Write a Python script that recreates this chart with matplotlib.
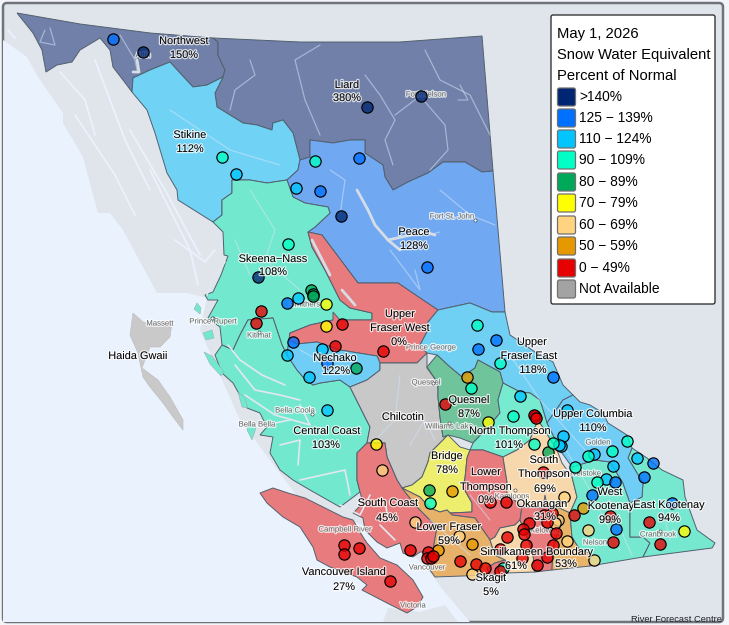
import matplotlib

matplotlib.use("Agg")
import matplotlib.patheffects as pe
import matplotlib.pyplot as plt
from matplotlib.patches import FancyBboxPatch, Polygon

plt.rcParams["font.family"] = ["Liberation Sans", "DejaVu Sans"]

# everything is in reference pixels, y pointing down
OCEAN = [(3, 40), (13, 47), (27, 57), (38, 77), (63, 113), (63, 123), (83, 157), (98, 213), (110, 213),
         (123, 230), (157, 293), (187, 293), (207, 298), (200, 330), (240, 420), (300, 500), (400, 540),
         (432, 575), (443, 590), (470, 622), (3, 622)]
OLYMPIC = [(383, 622), (388, 608), (420, 612), (445, 605), (458, 622)]
HAIDA_GWAII = [(133, 313), (143, 322), (160, 325), (172, 323), (170, 337), (160, 347), (150, 347), (142, 368),
               (158, 380), (170, 397), (183, 420), (183, 430), (173, 417), (163, 403), (150, 387), (143, 377),
               (138, 353), (130, 335)]

NORTHWEST = [(17, 13), (80, 24), (150, 33), (213, 38), (218, 42), (218, 55), (225, 70), (223, 77), (207, 85),
             (193, 87), (180, 73), (170, 62), (150, 70), (133, 78), (132, 92), (123, 80), (113, 67), (110, 50),
             (100, 38), (80, 50), (72, 62), (57, 65), (46, 72), (42, 50), (33, 33)]
LIARD = [(213, 38), (300, 42), (400, 42), (482, 36), (493, 171), (482, 172), (465, 162), (443, 162), (428, 173),
         (408, 182), (393, 190), (385, 177), (383, 165), (365, 153), (365, 140), (350, 140), (333, 143),
         (310, 140), (310, 157), (300, 160), (293, 133), (283, 120), (273, 123), (272, 130), (257, 125),
         (243, 123), (230, 115), (217, 107), (215, 93), (223, 77), (225, 70), (218, 55), (218, 42)]
STIKINE = [(132, 92), (133, 78), (150, 70), (170, 62), (180, 73), (193, 87), (207, 85), (223, 77), (215, 93),
           (217, 107), (230, 115), (243, 123), (257, 125), (272, 130), (273, 123), (283, 120), (293, 133),
           (300, 160), (298, 170), (287, 180), (267, 183), (250, 180), (232, 180), (232, 193), (222, 200),
           (222, 215), (213, 222), (178, 200), (177, 190), (167, 173), (155, 133), (147, 110)]
PEACE = [(300, 160), (310, 157), (310, 140), (333, 143), (350, 140), (365, 140), (365, 153), (383, 165),
         (385, 177), (393, 190), (408, 182), (428, 173), (443, 162), (465, 162), (482, 172), (493, 171),
         (505, 312), (492, 312), (470, 303), (438, 310), (420, 298), (398, 283), (358, 283), (322, 235),
         (308, 232), (315, 227), (330, 213), (328, 207), (305, 203), (293, 197), (287, 180), (298, 170)]
SKEENA = [(213, 222), (222, 215), (222, 200), (232, 193), (232, 180), (250, 180), (267, 183), (287, 180),
          (293, 197), (305, 203), (328, 207), (330, 213), (315, 227), (308, 232), (312, 247), (325, 270),
          (340, 300), (350, 308), (372, 313), (372, 320), (340, 320), (333, 320), (310, 325), (290, 333),
          (289, 340), (287, 355), (282, 345), (273, 318), (248, 320), (240, 335), (233, 350), (222, 345),
          (220, 327), (208, 318), (218, 300), (208, 300), (205, 295), (213, 292), (221, 275), (228, 256),
          (224, 255), (223, 232)]
CENTRAL_COAST = [(233, 350), (240, 335), (248, 320), (273, 318), (282, 345), (287, 355), (297, 370), (303, 377),
                 (313, 385), (320, 383), (340, 380), (350, 387), (353, 393), (363, 413), (370, 427), (367, 443),
                 (357, 453), (357, 480), (360, 492), (340, 507), (310, 490), (293, 480), (280, 470), (270, 453),
                 (273, 437), (260, 435), (267, 427), (260, 413), (247, 408), (233, 383), (222, 373), (215, 355),
                 (222, 345)]
NECHAKO = [(287, 355), (289, 340), (297, 344), (317, 342), (340, 350), (377, 356), (380, 363), (380, 370),
           (367, 380), (350, 387), (340, 380), (320, 383), (313, 385), (303, 377), (297, 370)]
UPPER_FRASER_WEST = [(308, 232), (322, 235), (358, 283), (398, 283), (420, 298), (438, 310), (428, 322), (428, 330),
                     (420, 345), (427, 353), (417, 363), (380, 363), (377, 356), (340, 350), (317, 342), (297, 344),
                     (289, 340), (290, 333), (310, 325), (333, 320), (333, 312), (340, 320), (372, 320), (372, 313),
                     (350, 308), (340, 300), (325, 270), (312, 247)]
UPPER_FRASER_EAST = [(420, 345), (428, 330), (428, 322), (438, 310), (470, 303), (492, 312), (505, 312), (510, 335),
                     (525, 345), (535, 352), (553, 362), (563, 385), (573, 395), (563, 400), (547, 423), (540, 400),
                     (530, 393), (520, 392), (503, 383), (500, 372), (478, 360), (475, 368), (462, 377), (450, 367),
                     (437, 355), (427, 353)]
CHILCOTIN = [(350, 387), (367, 380), (380, 370), (380, 363), (417, 363), (427, 353), (427, 368), (438, 383),
             (438, 397), (440, 417), (443, 437), (448, 435), (430, 453), (428, 462), (422, 477), (412, 485),
             (402, 488), (397, 480), (387, 457), (385, 443), (367, 443), (370, 427), (363, 413), (353, 393)]
QUESNEL = [(427, 367), (437, 355), (450, 367), (462, 377), (475, 368), (478, 360), (500, 372), (503, 383), (498, 400),
           (500, 413), (490, 425), (473, 443), (460, 438), (448, 435), (443, 437), (440, 417), (438, 397), (438, 383)]
NORTH_THOMPSON = [(503, 383), (520, 392), (530, 393), (540, 400), (547, 423), (562, 453), (557, 450), (538, 420),
                  (533, 432), (530, 440), (517, 450), (503, 457), (483, 450), (470, 450), (473, 443), (490, 425),
                  (500, 413), (498, 400)]
BRIDGE = [(448, 435), (460, 447), (470, 450), (467, 458), (465, 478), (463, 487), (472, 503), (472, 512), (450, 513),
          (447, 510), (440, 512), (430, 508), (420, 497), (402, 488), (412, 485), (422, 477), (428, 462), (430, 453)]
LOWER_THOMPSON = [(470, 450), (483, 450), (503, 457), (507, 482), (507, 493), (522, 507), (520, 520), (515, 525),
                  (500, 528), (495, 537), (490, 540), (483, 530), (475, 518), (452, 515), (450, 513), (472, 512),
                  (472, 503), (463, 487), (465, 478), (467, 458)]
SOUTH_THOMPSON = [(538, 420), (557, 450), (562, 463), (572, 477), (577, 497), (570, 513), (557, 507), (543, 508),
                  (522, 507), (507, 493), (507, 482), (503, 457), (517, 450), (530, 440), (533, 432)]
SOUTH_COAST = [(357, 453), (367, 443), (385, 443), (387, 457), (397, 480), (402, 488), (417, 507), (437, 527),
               (433, 550), (430, 552), (420, 552), (413, 557), (403, 553), (400, 543), (387, 548), (377, 542),
               (365, 530), (363, 518), (353, 513), (363, 503), (360, 492), (357, 480)]
LOWER_FRASER = [(402, 488), (420, 497), (430, 508), (440, 512), (447, 510), (452, 515), (475, 518), (483, 530),
                (490, 540), (495, 555), (505, 560), (495, 563), (487, 568), (490, 575), (435, 577), (430, 570),
                (430, 552), (433, 550), (437, 527), (417, 507)]
SIMILKAMEEN = [(515, 525), (520, 520), (530, 545), (533, 555), (535, 572), (507, 573), (510, 568), (505, 560),
               (495, 555), (490, 540), (495, 537), (500, 528)]
OKANAGAN = [(520, 520), (522, 507), (543, 508), (545, 495), (547, 505), (552, 513), (563, 520), (557, 535), (553, 550),
            (552, 570), (535, 572), (533, 555), (530, 545)]
BOUNDARY = [(570, 513), (572, 537), (580, 550), (590, 553), (590, 566), (552, 570), (553, 550), (557, 535), (563, 520),
            (552, 513), (557, 507)]
SKAGIT = [(487, 568), (495, 563), (505, 560), (510, 568), (507, 573), (490, 575)]
WEST_KOOTENAY = [(572, 477), (572, 467), (595, 460), (610, 462), (623, 483), (630, 503), (630, 537), (643, 537),
                 (650, 543), (643, 557), (590, 566), (590, 553), (580, 550), (572, 537), (570, 513), (577, 497)]
EAST_KOOTENAY = [(632, 448), (647, 458), (662, 470), (683, 480), (685, 497), (697, 530), (715, 543), (712, 548),
                 (643, 557), (650, 543), (643, 537), (630, 537), (630, 503), (642, 497), (643, 483), (628, 458)]
UPPER_COLUMBIA = [(573, 395), (580, 402), (590, 405), (603, 413), (608, 423), (627, 435), (632, 448), (628, 458),
                  (643, 483), (642, 497), (630, 503), (623, 483), (610, 462), (595, 460), (572, 467), (562, 453),
                  (547, 423), (563, 400)]
VANCOUVER_ISLAND = [(260, 493), (273, 488), (288, 493), (305, 498), (323, 507), (343, 517), (353, 520), (363, 537),
                    (367, 543), (380, 558), (397, 565), (413, 580), (423, 597), (417, 607), (407, 613), (387, 603),
                    (362, 590), (367, 585), (357, 577), (330, 567), (317, 560), (313, 547), (300, 527), (283, 517),
                    (267, 503)]
COAST_ISLANDS = [[(197, 303), (201, 308), (200, 314), (194, 309)],
                 [(203, 333), (212, 330), (214, 338), (206, 340)],
                 [(204, 352), (212, 356), (224, 372), (221, 376), (210, 364)],
                 [(238, 392), (245, 398), (248, 408), (242, 407)],
                 [(250, 420), (256, 428), (252, 440), (247, 430)]]

REGIONS = [
    (NORTHWEST, "#7080a8"), (LIARD, "#7080a8"), (STIKINE, "#70d3f6"), (PEACE, "#70a9f2"),
    (SKEENA, "#72e9cf"), (CENTRAL_COAST, "#72e9cf"), (UPPER_FRASER_WEST, "#e87b7d"), (NECHAKO, "#70cdf5"),
    (UPPER_FRASER_EAST, "#70d0f4"), (CHILCOTIN, "#c8c8c8"), (QUESNEL, "#70c49b"), (NORTH_THOMPSON, "#76ebd0"),
    (BRIDGE, "#eeee6e"), (LOWER_THOMPSON, "#e87b7d"), (SOUTH_THOMPSON, "#f6d8ac"), (SOUTH_COAST, "#e87b7d"),
    (LOWER_FRASER, "#e7b16a"), (SIMILKAMEEN, "#f6d8ac"), (OKANAGAN, "#e87b7d"), (BOUNDARY, "#e8b46a"),
    (SKAGIT, "#e87b7d"), (WEST_KOOTENAY, "#76e8cf"), (EAST_KOOTENAY, "#76e8cf"), (UPPER_COLUMBIA, "#70cdf5"),
    (VANCOUVER_ISLAND, "#e87b7d"),
]

RIVERS = [
    [(45, 30), (40, 42), (55, 45), (50, 28)], [(120, 35), (135, 60), (137, 70)], [(250, 60), (255, 75), (235, 90), (230, 110)],
    [(320, 45), (295, 60), (305, 100), (320, 135)], [(365, 75), (380, 95), (395, 120), (385, 140), (393, 165)],
    [(420, 96), (395, 115)], [(420, 96), (445, 125), (448, 150), (430, 170)], [(425, 50), (440, 80), (470, 95), (490, 135)],
    [(460, 85), (468, 100), (458, 100)], [(330, 170), (345, 180), (340, 215)], [(440, 190), (470, 215), (495, 225)],
    [(390, 250), (420, 290), (415, 270)], [(428, 235), (440, 232)], [(170, 110), (200, 130), (230, 150), (280, 165)],
    [(250, 190), (275, 230), (265, 260), (300, 290)], [(235, 240), (250, 275)], [(400, 375), (395, 420), (375, 440)],
    [(410, 445), (425, 420), (435, 440)], [(470, 495), (490, 520)], [(560, 440), (590, 490), (620, 550)], [(660, 500), (670, 540)],
    [(610, 500), (625, 540), (632, 555)], [(510, 355), (540, 400), (585, 450)], [(300, 350), (345, 375)], [(430, 520), (470, 555)],
]
RESERVOIRS = [[(357, 190), (368, 210), (375, 225), (388, 240), (400, 250)], [(388, 240), (425, 232), (435, 235)],
              [(342, 290), (355, 305)], [(137, 60), (139, 72), (133, 72)], [(312, 240), (330, 275)]]
FJORDS = [[(225, 262), (212, 280), (207, 295)], [(228, 345), (240, 360), (262, 375), (285, 385)],
          [(235, 365), (255, 390), (280, 395), (300, 400)], [(245, 395), (275, 415), (310, 425), (300, 405)],
          [(265, 425), (290, 420)], [(280, 445), (300, 440), (298, 465)], [(300, 480), (345, 470), (350, 495)],
          [(340, 505), (360, 515), (370, 495)], [(380, 525), (395, 540)], [(388, 520), (385, 500)]]
CHANNELS = [[(8, 30), (15, 38)], [(60, 72), (85, 100), (95, 135)], [(95, 60), (110, 100), (125, 140), (150, 190)],
            [(75, 115), (115, 175), (135, 215)], [(130, 130), (165, 190), (200, 255)], [(150, 170), (190, 250), (198, 285)],
            [(175, 240), (205, 262), (215, 250)]]

LEVEL_NAMES = [">140%", "125 \u2212 139%", "110 \u2212 124%", "90 \u2212 109%", "80 \u2212 89%", "70 \u2212 79%",
               "60 \u2212 69%", "50 \u2212 59%", "0 \u2212 49%", "Not Available"]
LEVEL_COLORS = ["#002673", "#0070ff", "#00c5ff", "#00ffc5", "#00a85a", "#ffff00", "#ffd37f", "#e69800", "#e60000", "#a3a3a3"]
LEGEND_Y = [97, 118, 139, 160, 182, 203, 225, 246, 268, 289]
TITLE_LINES = ["May 1, 2026", "Snow Water Equivalent", "Percent of Normal"]
TITLE_Y = [34, 55, 76]

STATIONS_140 = [(143, 52), (341, 216), (258, 277), (367, 107), (421, 96)]
STATIONS_125 = [(113, 39), (359, 158), (320, 191), (427, 267), (287, 303), (293, 342), (327, 363), (478, 349), (496, 340),
                (553, 377), (653, 463), (644, 477), (615, 482), (592, 495), (672, 503), (616, 529)]
STATIONS_110 = [(236, 174), (296, 188), (298, 298), (287, 355), (322, 349), (309, 377), (327, 410), (520, 396), (567, 410),
                (563, 436), (561, 446), (559, 445), (594, 454), (637, 458), (613, 466), (606, 479)]
STATIONS_90 = [(222, 157), (315, 161), (288, 244), (477, 325), (500, 363), (471, 388), (513, 416), (534, 444), (553, 443),
               (627, 441), (612, 451), (588, 456), (575, 467), (597, 482), (430, 503), (503, 568)]
STATIONS_80 = [(311, 290), (313, 294), (313, 296), (356, 368), (548, 452), (429, 490)]
STATIONS_70 = [(326, 304), (326, 326), (488, 422), (684, 531), (376, 444)]
STATIONS_60 = [(382, 470), (564, 497), (558, 520), (555, 523), (588, 530), (567, 541), (594, 560), (415, 522), (459, 536), (472, 574)]
STATIONS_50 = [(467, 377), (583, 508), (452, 491), (472, 544), (438, 550)]
STATIONS_0 = [(261, 311), (256, 323), (342, 324), (335, 346), (383, 351), (445, 404), (535, 416), (534, 415), (536, 418),
              (543, 472), (574, 515), (610, 516), (649, 522), (613, 542), (660, 544), (552, 513), (544, 515), (547, 522),
              (556, 533), (553, 545), (547, 557), (537, 565), (522, 558), (526, 545), (529, 523), (523, 529), (524, 534),
              (507, 537), (500, 549), (490, 502), (506, 502), (460, 561), (476, 564), (485, 568), (500, 571), (344, 545),
              (359, 548), (344, 554), (390, 581), (410, 550), (428, 552), (427, 558), (431, 558), (433, 556)]
STATION_GROUPS = [STATIONS_60, STATIONS_80, STATIONS_110, STATIONS_90, STATIONS_125, STATIONS_140, STATIONS_70, STATIONS_50, STATIONS_0]
STATION_COLORS = ["#ffd37f", "#00a85a", "#00c5ff", "#00ffc5", "#0070ff", "#002673", "#ffff00", "#e69800", "#e60000"]

BASIN_LABELS = [
    ("Northwest", 184, 41), ("150%", 184, 55), ("Liard", 347, 85), ("380%", 347, 98), ("Stikine", 190, 135), ("112%", 190, 149),
    ("Skeena\u2212Nass", 273, 259), ("108%", 273, 272), ("Peace", 414, 232), ("128%", 414, 246), ("Upper", 400, 314),
    ("Fraser West", 400, 328), ("0%", 399, 342), ("Upper", 532, 342), ("Fraser East", 529, 356), ("118%", 533, 370),
    ("Nechako", 335, 358), ("122%", 336, 371), ("Haida Gwaii", 138, 356), ("Central Coast", 327, 431), ("103%", 326, 445),
    ("Chilcotin", 403, 417), ("Quesnel", 469, 400), ("87%", 469, 414), ("North Thompson", 510, 431), ("101%", 509, 445),
    ("Bridge", 447, 456), ("78%", 447, 470), ("Upper Columbia", 593, 414), ("110%", 593, 428), ("South", 544, 460),
    ("Thompson", 544, 474), ("69%", 545, 489), ("West", 610, 492), ("Kootenay", 611, 506), ("99%", 610, 520),
    ("East Kootenay", 669, 505), ("94%", 669, 518), ("Lower", 486, 472), ("Thompson", 486, 487), ("0%", 486, 500),
    ("South Coast", 388, 503), ("45%", 387, 518), ("Okanagan", 542, 504), ("31%", 545, 517), ("Lower Fraser", 449, 527),
    ("59%", 449, 541), ("Similkameen Boundary", 537, 552), ("61%", 516, 566), ("53%", 566, 564), ("Skagit", 491, 578),
    ("5%", 491, 592), ("Vancouver Island", 344, 572), ("27%", 344, 587),
]
CITY_LABELS = [
    ("Fort Nelson", 426, 95), ("Atlin", 143, 56), ("Fort St. John", 452, 217), ("Massett", 160, 324), ("Prince Rupert", 213, 322),
    ("Kitimat", 259, 336), ("Smithers", 305, 305), ("Prince George", 431, 348), ("Quesnel", 426, 383), ("Bella Coola", 295, 411),
    ("Bella Bella", 257, 425), ("Williams Lake", 449, 427), ("Golden", 598, 443), ("Revelstoke", 582, 474), ("Kamloops", 512, 497),
    ("Kelowna", 545, 531), ("Nelson", 595, 543), ("Cranbrook", 658, 535), ("Campbell River", 345, 530), ("Vancouver", 427, 568),
    ("Victoria", 413, 606),
]
CITY_DOTS = [(475, 220), (419, 325), (213, 318), (259, 332), (212, 318), (312, 414), (433, 383), (449, 423), (515, 490), (559, 533), (660, 531)]


def draw_lines(ax, lines, color, width, zorder, alpha=1.0):
    for line in lines:
        ax.plot([p[0] for p in line], [p[1] for p in line], color=color, lw=width, zorder=zorder,
                alpha=alpha, solid_capstyle="round", solid_joinstyle="round")


fig = plt.figure(figsize=(7.29, 6.25), dpi=100, facecolor="#f3f5f9")
ax = fig.add_axes([0, 0, 1, 1])
ax.set_xlim(0, 729)
ax.set_ylim(625, 0)
ax.axis("off")

ax.add_patch(FancyBboxPatch((3, 3), 720, 619, boxstyle="round,pad=0,rounding_size=4", fc="#e0e5ec", ec="#6f747c", lw=1.8, zorder=0))
ax.add_patch(Polygon(OCEAN, fc="#e9f2fd", ec="none", zorder=1))
ax.add_patch(Polygon(OLYMPIC, fc="#e0e5ec", ec="none", zorder=1))
ax.add_patch(Polygon(HAIDA_GWAII, fc="#c9c9c9", ec="#bbbbbb", lw=0.4, zorder=2))
draw_lines(ax, CHANNELS, "#e9f2fd", 1.3, 2)

for pts, color in REGIONS:
    ax.add_patch(Polygon(pts, fc=color, ec="#52606e", lw=0.7, zorder=3))
for pts in COAST_ISLANDS:
    ax.add_patch(Polygon(pts, fc="#72e9cf", ec="#9aa0a8", lw=0.3, zorder=3))

draw_lines(ax, RIVERS, "#cfe3fa", 0.9, 4, alpha=0.55)
draw_lines(ax, RESERVOIRS, "#d5dde6", 2.0, 4)
draw_lines(ax, FJORDS, "#e3e8ef", 1.2, 4)

halo = [pe.withStroke(linewidth=1.8, foreground="white", alpha=0.75)]
for name, x, y in CITY_LABELS:
    ax.text(x, y, name, fontsize=5.6, color="#6a6a6a", ha="center", va="center", zorder=5, path_effects=halo)
ax.scatter([p[0] for p in CITY_DOTS], [p[1] for p in CITY_DOTS], s=5, fc="white", ec="#555555", lw=0.5, zorder=5)

for group, color in zip(STATION_GROUPS, STATION_COLORS):
    rgba = matplotlib.colors.to_rgba(color, 0.78)
    ax.scatter([p[0] for p in group], [p[1] for p in group], s=66, fc=[rgba], ec="black", lw=0.85, zorder=6)

for name, x, y in BASIN_LABELS:
    ax.text(x, y, name, fontsize=7.9, color="black", ha="center", va="center", zorder=7, path_effects=halo)

ax.add_patch(FancyBboxPatch((551, 15), 164, 289, boxstyle="round,pad=0,rounding_size=2", fc="white", ec="#222222", lw=0.9, zorder=8))
for line, y in zip(TITLE_LINES, TITLE_Y):
    ax.text(557, y, line, fontsize=10.6, color="black", ha="left", va="center", zorder=9)
for name, color, y in zip(LEVEL_NAMES, LEVEL_COLORS, LEGEND_Y):
    ax.add_patch(FancyBboxPatch((557.5, y - 9), 18, 18, boxstyle="round,pad=0,rounding_size=2", fc=color, ec="#707070", lw=0.9, zorder=9))
    ax.text(579.5, y, name, fontsize=9.9, color="black", ha="left", va="center", zorder=9)

ax.text(722, 619, "River Forecast Centre", fontsize=6.7, color="#222222", ha="right", va="center", zorder=9)

fig.savefig("out.png", dpi=100, facecolor=fig.get_facecolor())
plt.close(fig)
